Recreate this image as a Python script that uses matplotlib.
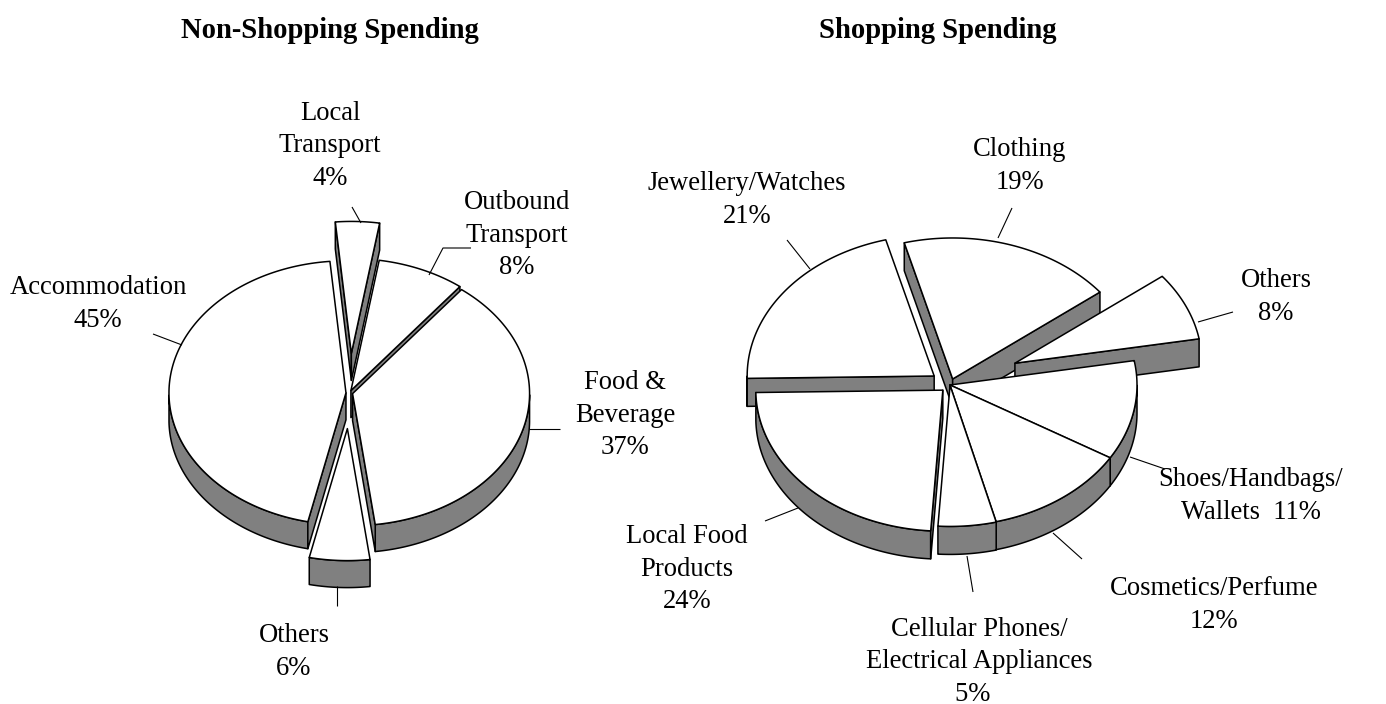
import numpy as np
import matplotlib
matplotlib.use('Agg')
import matplotlib.pyplot as plt

plt.rcParams['font.family'] = ['Liberation Serif', 'DejaVu Serif']

# Non-shopping spending
left_names = ['Local\nTransport\n4%', 'Outbound\nTransport\n8%', 'Food &\nBeverage\n37%',
              'Others\n6%', 'Accommodation\n45%']
left_values = [4, 8, 37.4, 5.5, 45.1]
left_explode = [0.30, 0.02, 0.018, 0.27, 0.02]
left_order = [0, 1, 4, 2, 3]

# Shopping spending
right_names = ['Clothing\n19%', 'Others\n8%', 'Shoes/Handbags/\nWallets  11%', 'Cosmetics/Perfume\n12%',
               'Cellular Phones/\nElectrical Appliances\n5%  ', 'Local Food\nProducts\n24%',
               'Jewellery/Watches\n21%']
right_values = [18.6, 7.8, 11.4, 12.4, 5.0, 23.7, 21.1]
right_explode = [0.045, 0.38, 0.0, 0.0, 0.003, 0.053, 0.106]
right_order = [0, 6, 1, 2, 3, 4, 5]

# label centres in pixels
left_pos = [(330, 146), (517, 235), (625, 415), (294, 652), (98, 304)]
right_pos = [(1020, 166), (1276, 297), (1251, 496), (1214, 605), (979, 662), (687, 569), (747, 200)]

# leader lines
left_leaders = [[(361, 223), (352, 207)], [(429, 275), (443, 248), (471, 248)], [(529, 429), (560, 429)],
                [(337, 586), (337, 606)], [(182, 345), (153, 334)]]
right_leaders = [[(998, 238), (1012, 208)], [(1198, 322), (1233, 312)], [(1130, 457), (1165, 469)],
                 [(1053, 533), (1082, 559)], [(967, 556), (973, 592)], [(798, 508), (765, 521)],
                 [(810, 269), (787, 240)]]

GREY = '#808080'
LW = 1.1
FS = 19.2
LS = 1.41


def draw_pie(ax, values, explode, order, start, cx, cy, rx, ry, depth):
    edges = np.radians(start + np.concatenate([[0], np.cumsum(values)]) * 3.6)
    kw = dict(edgecolor='black', linewidth=LW, joinstyle='round')
    for i in order:
        a, b = edges[i], edges[i + 1]
        mid = (a + b) / 2
        ox = cx + explode[i] * rx * np.sin(mid)
        oy = cy - explode[i] * ry * np.cos(mid)
        t = np.linspace(a, b, 160)
        xs = ox + rx * np.sin(t)
        ys = oy - ry * np.cos(t)
        # only the faces turned to the viewer
        front = np.cos(t) < 0
        if front.any():
            ax.fill(np.r_[xs[front], xs[front][::-1]], np.r_[ys[front], ys[front][::-1] + depth], facecolor=GREY, **kw)
        if np.sin(a) < 0:
            ax.fill([ox, xs[0], xs[0], ox], [oy, ys[0], ys[0] + depth, oy + depth], facecolor=GREY, **kw)
        if np.sin(b) > 0:
            ax.fill([ox, xs[-1], xs[-1], ox], [oy, ys[-1], ys[-1] + depth, oy + depth], facecolor=GREY, **kw)
        ax.fill(np.r_[ox, xs], np.r_[oy, ys], facecolor='white', **kw)


def draw_labels(ax, names, pos, leaders):
    for name, p, pts in zip(names, pos, leaders):
        ax.text(p[0], p[1], name, ha='center', va='center', ma='center', fontsize=FS, linespacing=LS)
        ax.plot(*zip(*pts), color='black', lw=0.8, solid_capstyle='butt')


fig = plt.figure(figsize=(13.86, 7.04), dpi=100)
ax = fig.add_axes([0, 0, 1, 1])
ax.set_xlim(0, 1386)
ax.set_ylim(704, 0)
ax.axis('off')

draw_pie(ax, left_values, left_explode, left_order, -5.2, 349.5, 393, 177, 132, 27)
draw_pie(ax, right_values, right_explode, right_order, -15, 950, 385, 187, 141, 28)
draw_labels(ax, left_names, left_pos, left_leaders)
draw_labels(ax, right_names, right_pos, right_leaders)

ax.text(330, 31, 'Non-Shopping Spending', ha='center', va='center', fontsize=20.6, fontweight='bold')
ax.text(937.5, 31, 'Shopping Spending', ha='center', va='center', fontsize=20.6, fontweight='bold')

fig.savefig('out.png', dpi=100)
